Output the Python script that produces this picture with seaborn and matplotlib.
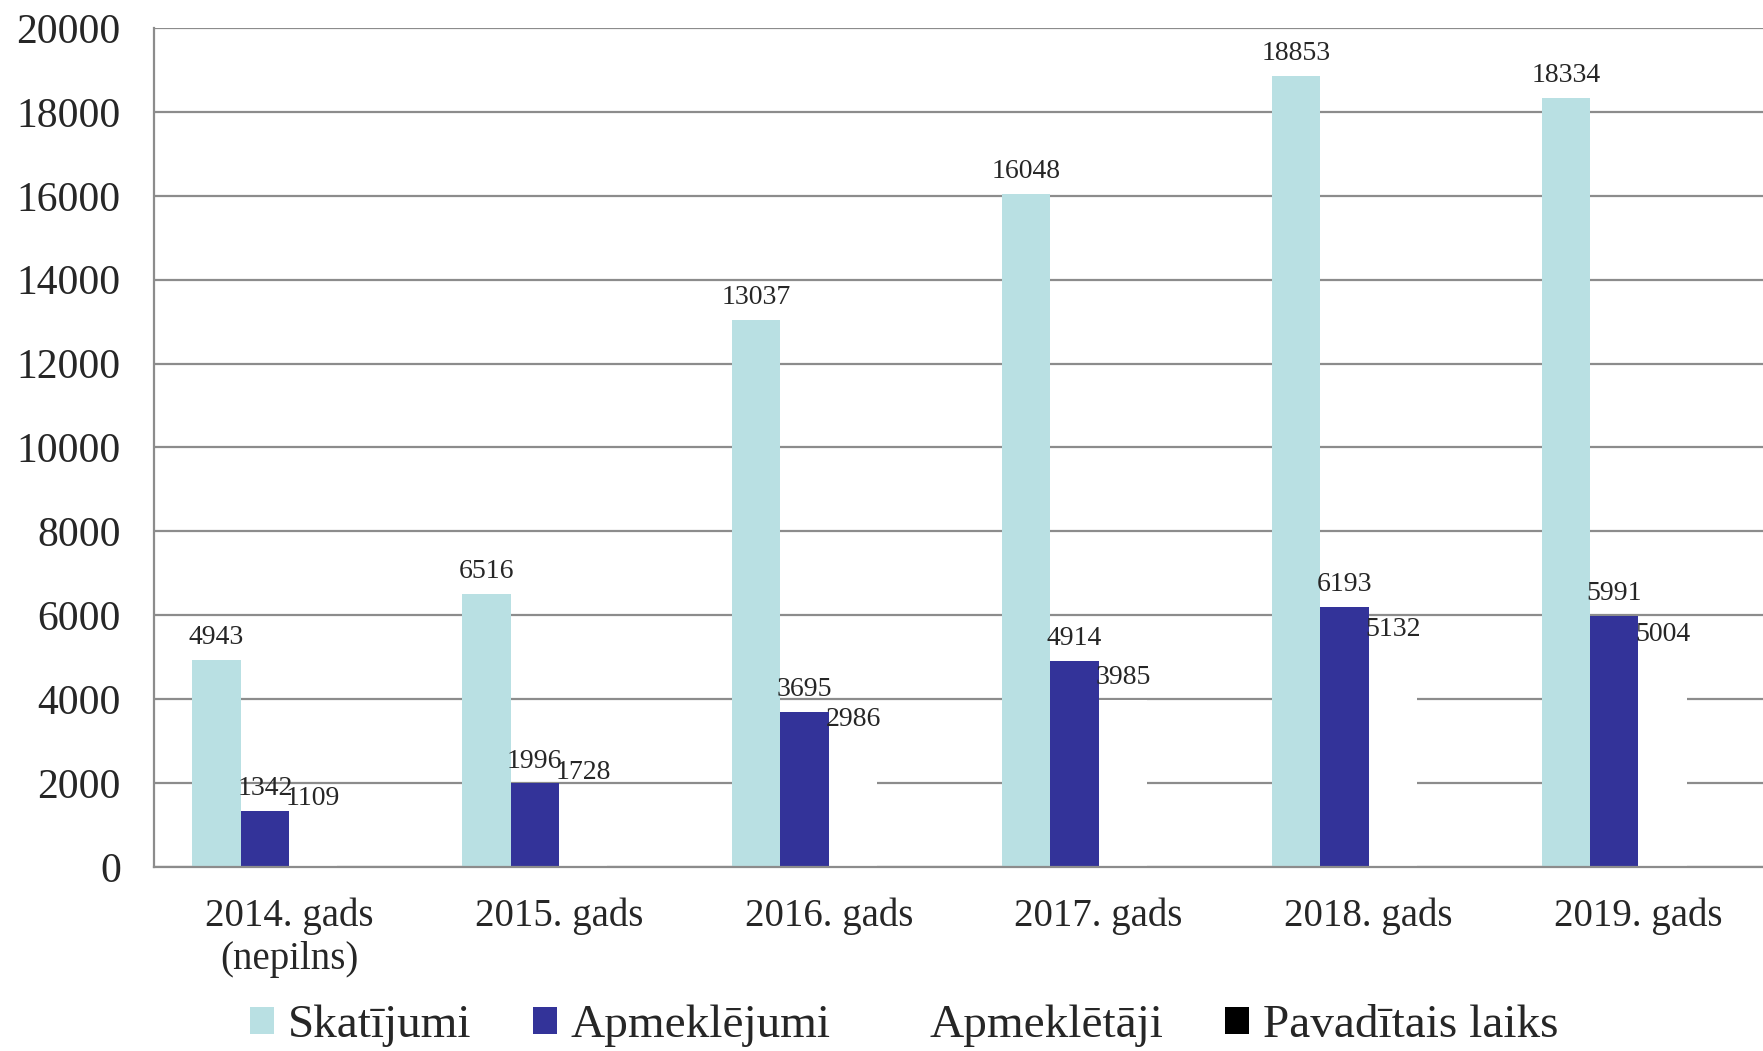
import pandas as pd
import numpy as np
import seaborn as sns
import matplotlib.pyplot as plt

# values
gadi = ['2014. gads\n(nepilns)', '2015. gads', '2016. gads', '2017. gads', '2018. gads', '2019. gads']
skatijumi = [4943, 6516, 13037, 16048, 18853, 18334]
apmeklejumi = [1342, 1996, 3695, 4914, 6193, 5991]
apmekletaji = [1109, 1728, 2986, 3985, 5132, 5004]
pavaditais_laiks = [0, 0, 0, 0, 0, 0]

series = ['Skatījumi', 'Apmeklējumi', 'Apmeklētāji', 'Pavadītais laiks']
colors = ['#B9E0E3', '#333399', '#FFFFFF', '#000000']

df = pd.DataFrame({
    'gads': gadi * 4,
    'raditajs': [s for s in series for _ in gadi],
    'vertiba': skatijumi + apmeklejumi + apmekletaji + pavaditais_laiks,
})

sns.set_style('white')
plt.rcParams['font.family'] = ['Liberation Serif', 'DejaVu Serif']

fig = plt.figure(figsize=(17.63, 10.51), dpi=100)
ax = fig.add_axes([0.0874, 0.1751, 0.9185, 0.7983])

sns.barplot(data=df, x='gads', y='vertiba', hue='raditajs', hue_order=series,
            palette=colors, width=0.717, gap=0, saturation=1, ax=ax,
            linewidth=0, zorder=3)

ax.set_ylim(0, 20000)
ax.set_xlim(-0.5, 5.5)
ax.set_yticks(np.arange(0, 20001, 2000))
ax.yaxis.grid(True, color='#8C8C8C', linewidth=1.6, zorder=0)
ax.set_axisbelow(True)
ax.set_xlabel('')
ax.set_ylabel('')

for side in ['top', 'right']:
    ax.spines[side].set_visible(False)
for side in ['left', 'bottom']:
    ax.spines[side].set_color('#8C8C8C')
    ax.spines[side].set_linewidth(1.6)
    ax.spines[side].set_zorder(5)

ax.tick_params(axis='y', length=0, labelsize=30, pad=24)
ax.tick_params(axis='x', length=0, labelsize=28, pad=22)

# value labels
all_vals = [skatijumi, apmeklejumi, apmekletaji, pavaditais_laiks]
for cont, vals, name in zip(ax.containers, all_vals, series):
    if name == 'Pavadītais laiks':
        continue
    ax.bar_label(cont, labels=[str(v) for v in vals], padding=7, fontsize=20)

handles, labels = ax.get_legend_handles_labels()
if ax.get_legend() is not None:
    ax.get_legend().remove()
fig.legend(handles, labels, loc='center', bbox_to_anchor=(0.513, 0.024), ncol=4,
           frameon=False, fontsize=34, handlelength=0.5, handleheight=0.5,
           handletextpad=0.3, columnspacing=1.3)

plt.savefig('out.png', dpi=100)
